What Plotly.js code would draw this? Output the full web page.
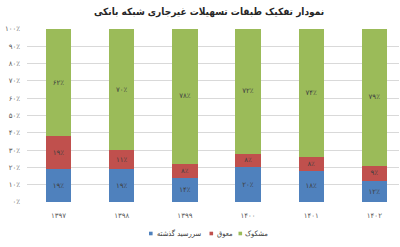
<!DOCTYPE html>
<html>
<head>
<meta charset="utf-8">
<script src="https://cdn.plot.ly/plotly-3.0.1.min.js"></script>
<style>html,body{margin:0;padding:0;background:#fff;}#chart{width:400px;height:247px;}</style>
</head>
<body>
<div id="chart"></div>
<script>
var years = ['1397', '1398', '1399', '1400', '1401', '1402'];
var overdue = [19, 19, 14, 20, 18, 12];      // سررسید گذشته
var deferred = [19, 11, 8, 8, 8, 9];          // معوق
var doubtful = [62, 70, 78, 72, 74, 79];      // مشکوک
var seriesNames = ['سررسید گذشته', 'معوق', 'مشکوک'];
var yTicks = [0, 10, 20, 30, 40, 50, 60, 70, 80, 90, 100];

function fa(n) {
  var d = '۰۱۲۳۴۵۶۷۸۹';
  return String(n).replace(/[0-9]/g, function (c) { return d[+c]; });
}
function pct(v) { return fa(v) + '٪'; }

var FONT = 'DejaVu Sans, sans-serif';
var FONTC = 'DejaVu Sans Condensed, DejaVu Sans, sans-serif';
var colors = ['#4f81bd', '#c0504d', '#9bbb59'];
var vals = [overdue, deferred, doubtful];
var xLabels = years.map(fa);

var traces = vals.map(function (arr, i) {
  return {
    type: 'bar',
    name: seriesNames[i],
    x: [0, 1, 2, 3, 4, 5],
    y: arr,
    text: arr.map(pct),
    textposition: 'inside',
    insidetextanchor: 'middle',
    textangle: 0,
    textfont: {family: FONT, size: 7, color: '#404040'},
    marker: {color: colors[i]},
    hoverinfo: 'none',
    showlegend: false
  };
});

// Plot area in pixels (for placing the custom legend)
var L = 27, R = 399, T = 29, B = 202;
function px(x) { return (x - L) / (R - L); }
function py(y) { return (B - y) / (B - T); }

// Custom legend: square + label, left to right
var legSquareX = [149, 209.5, 238.5];
var legTextX = [154.5, 214.5, 243];
var legY = 233.5, sq = 3.6;
var shapes = [], annotations = [];
seriesNames.forEach(function (nm, i) {
  shapes.push({type: 'rect', xref: 'paper', yref: 'paper',
    x0: px(legSquareX[i]), x1: px(legSquareX[i] + sq),
    y0: py(legY + sq / 2), y1: py(legY - sq / 2),
    fillcolor: colors[i], line: {width: 0}});
  annotations.push({xref: 'paper', yref: 'paper', x: px(legTextX[i]), y: py(legY),
    xanchor: 'left', yanchor: 'middle', showarrow: false, text: nm,
    font: {family: FONTC, size: 7.5, color: '#404040'}});
});

var layout = {
  width: 400, height: 247,
  margin: {l: L, r: 400 - R, t: T, b: 247 - B},
  paper_bgcolor: '#fff', plot_bgcolor: '#fff',
  barmode: 'stack',
  bargap: 0.6,
  showlegend: false,
  title: {text: '<b>نمودار تفکیک طبقات تسهیلات غیرجاری شبکه بانکی</b>',
          font: {family: FONTC, size: 10, color: '#262626'},
          x: 209 / 400, xanchor: 'center', y: 0.952, yanchor: 'middle', xref: 'container', yref: 'container'},
  xaxis: {
    range: [-0.5, 5.39],
    tickmode: 'array', tickvals: [0, 1, 2, 3, 4, 5], ticktext: xLabels,
    tickfont: {family: FONT, size: 7, color: '#595959'},
    showgrid: false, zeroline: false, showline: false, ticks: '', ticklen: 0,
    ticklabelstandoff: 8
  },
  yaxis: {
    range: [0, 100],
    tickmode: 'array', tickvals: yTicks, ticktext: yTicks.map(pct),
    tickfont: {family: FONT, size: 7, color: '#595959'},
    showgrid: true, gridcolor: '#d9d9d9', gridwidth: 1,
    zeroline: false, showline: false, ticks: '', ticklabelstandoff: 6
  },
  shapes: shapes,
  annotations: annotations
};

Plotly.newPlot('chart', traces, layout, {staticPlot: true, displayModeBar: false});
</script>
</body>
</html>
